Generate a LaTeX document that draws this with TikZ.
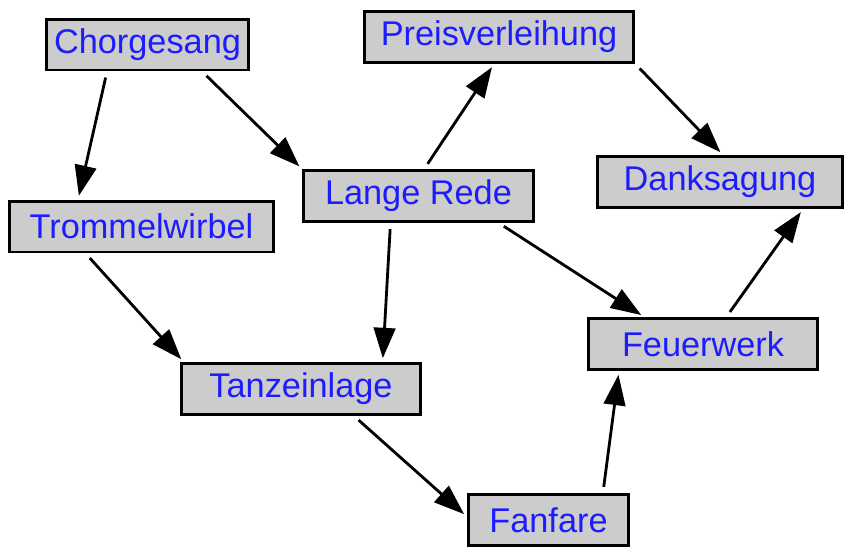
\documentclass[tikz,border=0pt]{standalone}
\usepackage{fontspec}
\setmainfont{Liberation Sans}
\usepackage{tikz}
\usetikzlibrary{
  arrows.meta,
  positioning
}
\definecolor{boxgray}{RGB}{204,204,204}
\definecolor{textblue}{RGB}{28,28,255}

\begin{document}
\begin{tikzpicture}[
  evbox/.style={
    draw=black,
    fill=boxgray,
    line width=1pt,
    text=textblue,
    font=\fontsize{12.2}{14}\selectfont,
    minimum height=0.635cm,
    inner sep=0pt,
    align=center
  },
  flow/.style={
    -{Triangle[length=0.38cm, width=0.27cm]},
    line width=1pt,
    black,
    shorten <=0.08cm,
    shorten >=0.05cm
  }
]
  \useasboundingbox (0,0) rectangle (10.575,6.8625);

  % Event Nodes
  \node[evbox, minimum width=2.53cm] (chor)  at (1.844, 6.306)  {Chorgesang};
  \node[evbox, minimum width=3.37cm] (preis) at (6.2375, 6.4)   {Preisverleihung};
  \node[evbox, minimum width=3.07cm] (dank)  at (9.0, 4.5875)   {Danksagung};
  \node[evbox, minimum width=2.87cm] (lange) at (5.231, 4.4125)  {Lange Rede};
  \node[evbox, minimum width=3.30cm] (tromm) at (1.769, 4.031)  {Trommelwirbel};
  \node[evbox, minimum width=2.87cm] (feuer) at (8.7875, 2.5625) {Feuerwerk};
  \node[evbox, minimum width=2.99cm] (tanz)  at (3.7625, 2.0)   {Tanzeinlage};
  \node[evbox, minimum width=2.00cm] (fan)   at (6.856, 0.3625) {Fanfare};

  % Sequence Arrows
  \draw[flow] ([xshift=-0.506cm]chor.south) -- ([xshift=-0.794cm]tromm.north);
  \draw[flow] ([xshift=0.68cm]chor.south) -- (lange.north west);
  \draw[flow] ([xshift=0.07cm]lange.north) -- ([xshift=-0.06cm]preis.south);
  \draw[flow] (preis.south east) -- ([xshift=0.04cm]dank.north);
  \draw[flow] ([xshift=-0.35cm]lange.south) -- ([xshift=1.02cm]tanz.north);
  \draw[flow] ([xshift=1.0cm]lange.south) -- ([xshift=-0.73cm]feuer.north);
  \draw[flow] ([xshift=-0.7cm]tromm.south) -- ([xshift=0.05cm]tanz.north west);
  \draw[flow] ([xshift=0.66cm]tanz.south) -- ([yshift=0.04cm]fan.west);
  \draw[flow] ([xshift=0.68cm]fan.north) -- ([xshift=-1.05cm]feuer.south);
  \draw[flow] ([xshift=0.29cm]feuer.north) -- ([xshift=1.04cm]dank.south);
\end{tikzpicture}
\end{document}
